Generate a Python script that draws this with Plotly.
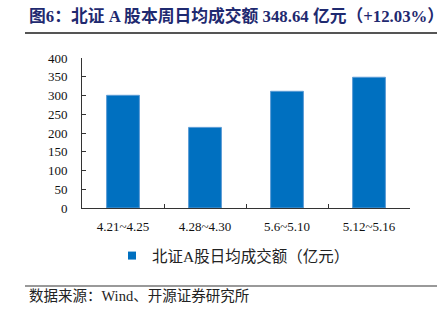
import plotly.graph_objects as go

categories = ["4.21~4.25", "4.28~4.30", "5.6~5.10", "5.12~5.16"]
values = [300.5, 215.0, 311.2, 348.64]
series_name = "北证A股日均成交额（亿元）"
title_text = "图6：北证 A 股本周日均成交额 348.64 亿元（+12.03%）"
source_text = "数据来源：Wind、开源证券研究所"
y_ticks = [0, 50, 100, 150, 200, 250, 300, 350, 400]

W, H = 444, 311
L, R, T, B = 82, 34, 58, 103
pw, ph = W - L - R, H - T - B

def px_x(x):
    return (x - L) / pw

def px_y(y):
    return (H - B - y) / ph

BAR_COLOR = "#0070C0"

fig = go.Figure()
fig.add_trace(go.Bar(
    x=categories, y=values, name=series_name, width=0.4, showlegend=False,
    marker=dict(color=BAR_COLOR, line=dict(color="#5B9BD5", width=1)),
))
# legend entry with a small square swatch like the original
fig.add_trace(go.Scatter(
    x=[None], y=[None], mode="markers", name=series_name,
    marker=dict(symbol="square", size=8, color=BAR_COLOR),
))

serif = "Liberation Serif, Times New Roman, serif"
mixed = "Liberation Serif, Noto Sans CJK SC"

fig.update_layout(
    width=W, height=H,
    margin=dict(l=L, r=R, t=T, b=B),
    paper_bgcolor="white", plot_bgcolor="white",
    showlegend=True,
    legend=dict(
        orientation="h", x=px_x(112), y=px_y(256), xanchor="left", yanchor="middle",
        font=dict(family=mixed, size=15.5, color="#222"),
        itemwidth=30, bgcolor="rgba(0,0,0,0)",
    ),
    xaxis=dict(
        type="category", range=[-0.5, 3.5], tickson="boundaries",
        ticks="inside", ticklen=4, tickcolor="#333", tickwidth=1,
        showline=True, linecolor="#333", linewidth=1,
        tickfont=dict(family=serif, size=13, color="#111"),
        showgrid=False, zeroline=False, ticklabelstandoff=6,
    ),
    yaxis=dict(
        range=[0, 400], tickvals=y_ticks,
        ticks="inside", ticklen=4, tickcolor="#333", tickwidth=1,
        showline=True, linecolor="#333", linewidth=1,
        tickfont=dict(family=serif, size=13, color="#111"),
        showgrid=False, zeroline=False, ticklabelstandoff=11,
    ),
    font=dict(family=serif),
)

fig.add_annotation(
    text="<b>" + title_text + "</b>", xref="paper", yref="paper",
    x=px_x(27), y=px_y(16), xanchor="left", yanchor="middle", showarrow=False,
    font=dict(family=mixed, size=16.8, color="#1F2A70"),
)
fig.add_annotation(
    text=source_text, xref="paper", yref="paper",
    x=px_x(27), y=px_y(296), xanchor="left", yanchor="middle", showarrow=False,
    font=dict(family=mixed, size=14.5, color="#222"),
)
fig.add_shape(type="line", xref="paper", yref="paper",
              x0=px_x(25), x1=px_x(437), y0=px_y(33), y1=px_y(33),
              line=dict(color="#555", width=2))
fig.add_shape(type="line", xref="paper", yref="paper",
              x0=px_x(25), x1=px_x(437), y0=px_y(286), y1=px_y(286),
              line=dict(color="#777", width=1.5))

fig.write_html("out.html")
